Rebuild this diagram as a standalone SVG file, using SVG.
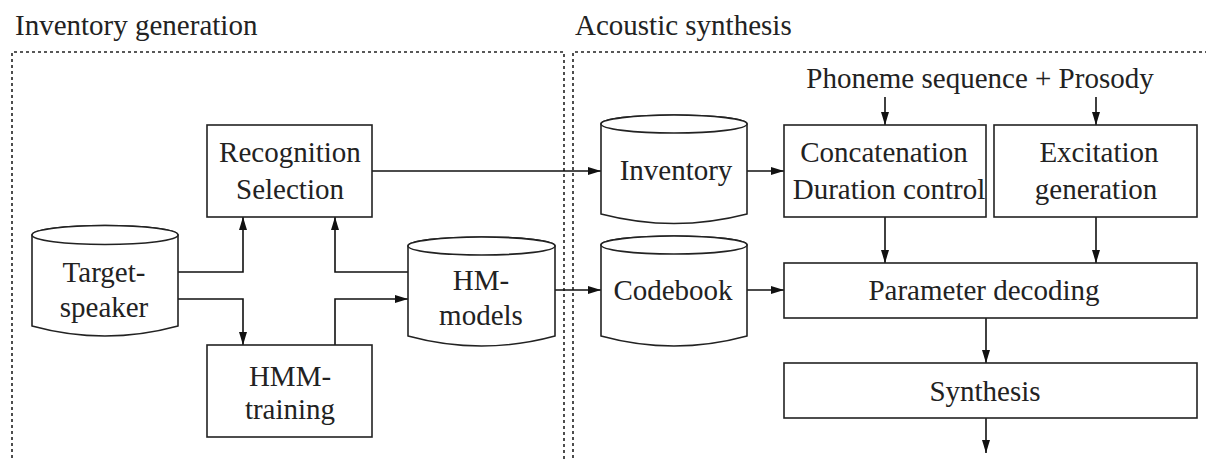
<svg xmlns="http://www.w3.org/2000/svg" width="1206" height="461" viewBox="0 0 1206 461">
  <defs>
    <marker id="arrow" markerWidth="14" markerHeight="10" refX="13" refY="5" orient="auto" markerUnits="userSpaceOnUse">
      <path d="M0,1 L13,5 L0,9 Z" fill="#111"/>
    </marker>
    <style>
      text { font-family: "Liberation Serif", "Times New Roman", serif; font-size: 29px; fill: #222; }
      .mid { text-anchor: middle; }
      .box { fill: #fff; stroke: #222; stroke-width: 1.6; }
      .frame { fill: none; stroke: #222; stroke-width: 1.6; stroke-dasharray: 3 3; }
      .wire { fill: none; stroke: #111; stroke-width: 1.6; marker-end: url(#arrow); }
    </style>
  </defs>
  <rect width="1206" height="461" fill="#fff"/>

  <!-- section frames -->
  <g id="section-inventory">
    <text x="15" y="35">Inventory generation</text>
    <path class="frame" d="M12,470 V52 H564 V470"/>
  </g>
  <g id="section-acoustic">
    <text x="575" y="35">Acoustic synthesis</text>
    <path class="frame" d="M573,470 V52 H1210"/>
  </g>

  <!-- connectors -->
  <g id="connectors">
    <path class="wire" d="M372,171 H601"/>
    <path class="wire" d="M747,171 H784"/>
    <path class="wire" d="M178,272 H243 V217"/>
    <path class="wire" d="M178,299 H243 V345"/>
    <path class="wire" d="M408,272 H335 V217"/>
    <path class="wire" d="M335,345 V299 H408"/>
    <path class="wire" d="M555,290 H601"/>
    <path class="wire" d="M747,290 H784"/>
    <path class="wire" d="M885,97 V125"/>
    <path class="wire" d="M1096,97 V125"/>
    <path class="wire" d="M885,217 V263"/>
    <path class="wire" d="M1096,217 V263"/>
    <path class="wire" d="M986,318 V363"/>
    <path class="wire" d="M986,418 V453"/>
  </g>

  <!-- inventory generation -->
  <g id="recognition">
    <rect class="box" x="207" y="125" width="165" height="92"/>
    <text class="mid" x="290" y="162">Recognition</text>
    <text class="mid" x="290" y="199">Selection</text>
  </g>
  <g id="target-speaker">
    <path class="box" d="M32,235 A73,9.5 0 0 1 178,235 V326 Q105,346 32,326 Z"/>
    <ellipse class="box" cx="105" cy="235" rx="73" ry="9.5"/>
    <text class="mid" x="104" y="282">Target-</text>
    <text class="mid" x="104" y="317">speaker</text>
  </g>
  <g id="hmm-training">
    <rect class="box" x="207" y="345" width="165" height="92"/>
    <text class="mid" x="290" y="386">HMM-</text>
    <text class="mid" x="290" y="419">training</text>
  </g>
  <g id="hm-models">
    <path class="box" d="M408,246 A73.5,9 0 0 1 555,246 V336 Q481.5,356 408,336 Z"/>
    <ellipse class="box" cx="481.5" cy="246" rx="73.5" ry="9"/>
    <text class="mid" x="481" y="290">HM-</text>
    <text class="mid" x="481" y="325">models</text>
  </g>

  <!-- acoustic synthesis -->
  <g id="inventory">
    <path class="box" d="M601,124 A73,9 0 0 1 747,124 V214 Q674,233 601,214 Z"/>
    <ellipse class="box" cx="674" cy="124" rx="73" ry="9"/>
    <text class="mid" x="676" y="180">Inventory</text>
  </g>
  <g id="codebook">
    <path class="box" d="M601,245 A73,9 0 0 1 747,245 V336 Q674,356 601,336 Z"/>
    <ellipse class="box" cx="674" cy="245" rx="73" ry="9"/>
    <text class="mid" x="673" y="300">Codebook</text>
  </g>
  <g id="prosody-input">
    <text class="mid" x="980" y="88">Phoneme sequence + Prosody</text>
  </g>
  <g id="concatenation">
    <rect class="box" x="784" y="125" width="202" height="92"/>
    <text class="mid" x="884" y="162">Concatenation</text>
    <text class="mid" x="889" y="199">Duration control</text>
  </g>
  <g id="excitation">
    <rect class="box" x="994" y="125" width="203" height="92"/>
    <text class="mid" x="1099" y="162">Excitation</text>
    <text class="mid" x="1096" y="199">generation</text>
  </g>
  <g id="parameter-decoding">
    <rect class="box" x="784" y="263" width="413" height="55"/>
    <text class="mid" x="984" y="300">Parameter decoding</text>
  </g>
  <g id="synthesis">
    <rect class="box" x="784" y="363" width="413" height="55"/>
    <text class="mid" x="985" y="401">Synthesis</text>
  </g>
</svg>
